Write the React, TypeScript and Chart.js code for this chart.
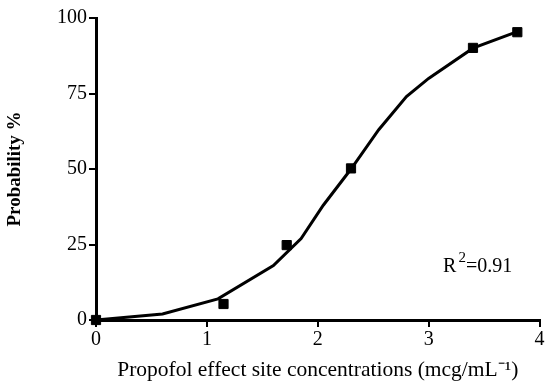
import React, { useEffect, useRef } from "react";
import { Chart, registerables } from "chart.js";

Chart.register(...registerables);

// Observed data (squares)
const obsConc = [0, 1.15, 1.72, 2.3, 3.4, 3.8];
const obsProb = [0, 5.3, 24.8, 50.2, 90.1, 95.3];

// Fitted curve
const fitConc = [0, 0.6, 1.1, 1.6, 1.85, 2.05, 2.3, 2.55, 2.8, 3.0, 3.4, 3.8];
const fitProb = [0, 2, 7, 18, 27, 38, 50, 63, 74, 80, 90, 95.5];

// Axis ticks
const xTicks = [0, 1, 2, 3, 4];
const yTicks = [0, 25, 50, 75, 100];

const xTitle = "Propofol effect site concentrations (mcg/mL\u207B\u00B9)";
const yTitle = "Probability %";

const r2Base = "R";
const r2Sup = "2";
const r2Rest = "=0.91";
const r2Pos = { x: 3.13, y: 16 };

const SERIF = "'Liberation Serif', 'Times New Roman', serif";

const textPlugin = {
  id: "extraText",
  afterDraw(chart: any) {
    const { ctx, scales } = chart;
    const xs = scales.x;
    const ys = scales.y;
    ctx.save();
    ctx.fillStyle = "#000";
    // R^2 label
    let px = xs.getPixelForValue(r2Pos.x);
    const py = ys.getPixelForValue(r2Pos.y);
    ctx.textAlign = "left";
    ctx.textBaseline = "alphabetic";
    ctx.font = `20px ${SERIF}`;
    ctx.fillText(r2Base, px, py);
    px += ctx.measureText(r2Base).width + 2;
    ctx.font = `15px ${SERIF}`;
    ctx.fillText(r2Sup, px, py - 10);
    px += ctx.measureText(r2Sup).width;
    ctx.font = `20px ${SERIF}`;
    ctx.fillText(r2Rest, px, py);
    ctx.restore();

    // Y axis title (condensed, bold, rotated)
    ctx.save();
    ctx.font = `bold 19px ${SERIF}`;
    const w = ctx.measureText(yTitle).width;
    const target = 115;
    const cy = (ys.top + ys.bottom) / 2;
    ctx.translate(15, cy);
    ctx.rotate(-Math.PI / 2);
    ctx.scale(target / w, 1);
    ctx.textAlign = "center";
    ctx.textBaseline = "middle";
    ctx.fillStyle = "#000";
    ctx.fillText(yTitle, 0, 0);
    ctx.restore();
  },
};

export default function App() {
  const ref = useRef<HTMLCanvasElement | null>(null);

  useEffect(() => {
    if (!ref.current) return;
    const chart = new Chart(ref.current, {
      type: "scatter",
      data: {
        datasets: [
          {
            type: "line",
            label: "fit",
            data: fitConc.map((x, i) => ({ x, y: fitProb[i] })),
            borderColor: "#000",
            borderWidth: 3,
            pointRadius: 0,
            tension: 0,
            fill: false,
            clip: false,
          } as any,
          {
            type: "scatter",
            label: "observed",
            data: obsConc.map((x, i) => ({ x, y: obsProb[i] })),
            backgroundColor: "#000",
            borderColor: "#000",
            borderWidth: 1,
            pointStyle: "rect",
            pointRadius: 6.5,
            clip: false,
          } as any,
        ],
      },
      options: {
        responsive: false,
        animation: false,
        devicePixelRatio: 1,
        layout: { padding: { left: 0, top: 18, right: 3, bottom: 0 } },
        plugins: {
          legend: { display: false },
          tooltip: { enabled: false },
        },
        scales: {
          x: {
            type: "linear",
            min: 0,
            max: 4,
            afterBuildTicks: (s: any) => {
              s.ticks = xTicks.map((v) => ({ value: v }));
            },
            afterFit: (s: any) => {
              s.height = 65;
              s.paddingLeft = 0;
              s.paddingRight = 0;
            },
            grid: {
              drawOnChartArea: false,
              drawTicks: true,
              tickLength: 7,
              color: "#000",
              lineWidth: 2,
            },
            border: { display: true, color: "#000", width: 3 },
            ticks: {
              color: "#000",
              font: { family: SERIF, size: 20 },
              padding: 1,
              maxRotation: 0,
            },
            title: {
              display: true,
              text: xTitle,
              color: "#000",
              font: { family: SERIF, size: 21.5 },
              padding: { top: 0, bottom: 2 },
            },
          },
          y: {
            type: "linear",
            min: 0,
            max: 100,
            afterBuildTicks: (s: any) => {
              s.ticks = yTicks.map((v) => ({ value: v }));
            },
            afterFit: (s: any) => {
              s.width = 96;
              s.paddingTop = 0;
              s.paddingBottom = 0;
            },
            grid: {
              drawOnChartArea: false,
              drawTicks: true,
              tickLength: 7,
              color: "#000",
              lineWidth: 2,
            },
            border: { display: true, color: "#000", width: 3 },
            ticks: {
              color: "#000",
              font: { family: SERIF, size: 20 },
              padding: 2,
            },
          },
        },
      },
      plugins: [textPlugin],
    } as any);
    return () => chart.destroy();
  }, []);

  return (
    <div
      style={{
        position: "absolute",
        left: 0,
        top: 0,
        width: 547,
        height: 385,
        overflow: "hidden",
        background: "#fff",
      }}
    >
      <canvas ref={ref} width={547} height={385} style={{ display: "block" }} />
    </div>
  );
}
